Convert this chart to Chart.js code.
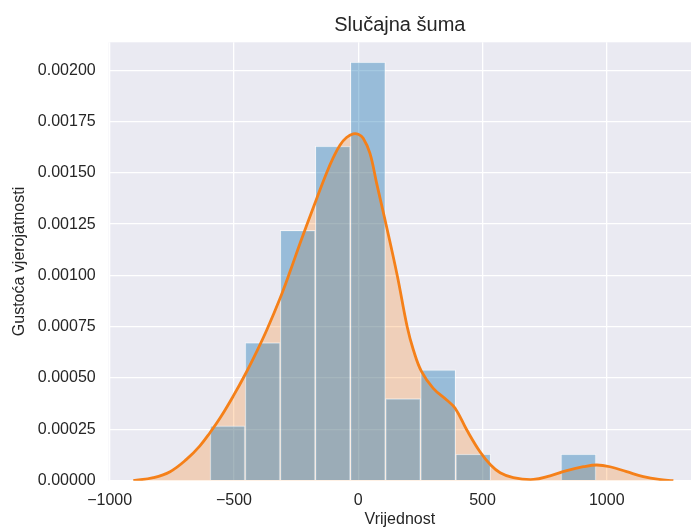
<!DOCTYPE html>
<html>
<head>
<meta charset="utf-8">
<title>Slučajna šuma</title>
<script src="https://cdn.jsdelivr.net/npm/chart.js@4.4.1/dist/chart.umd.min.js"></script>
<style>
    html, body { margin: 0; padding: 0; background: #ffffff; }
    #wrap { width: 691px; height: 532px; position: relative; }
</style>
</head>
<body>
<div id="wrap"><canvas id="chart"></canvas></div>
<script>
// histogram bins (centres) and densities
const binCenters = [-525.8, -384.6, -243.4, -102.2, 39.0, 180.2, 321.4, 462.6, 603.8, 745.0, 886.2];
const binDensity = [0.000267, 0.000673, 0.00122, 0.00163, 0.00204, 0.000400, 0.000540, 0.000130, 0, 0, 0.000130];

// KDE curve
const kdeX = [-905, -824, -757, -690, -637, -596, -556, -503, -456, -409, -368, -314, -274, -234, -181, -127, -100, -73, -47, -20, 0,
    20, 47, 74, 108, 157, 197, 222, 255, 302, 356, 390, 437, 490, 533, 571, 624, 705, 772, 839, 906, 960, 1013, 1080, 1147, 1210, 1268];
const kdeY = [0, 0.000015, 0.000044, 0.000105, 0.000170, 0.000235, 0.000305, 0.000412, 0.000515, 0.000628, 0.000734, 0.000890, 0.001020, 0.001157, 0.001330, 0.001500, 0.001575, 0.001636, 0.001672, 0.001690, 0.001688,
    0.001669, 0.001596, 0.001450, 0.001270, 0.001000, 0.000750, 0.000637, 0.000531, 0.000450, 0.000393, 0.000353, 0.000247, 0.000141, 0.0000765, 0.000039, 0.000015, 0.000006, 0.000024, 0.000049, 0.000068, 0.0000765, 0.000068, 0.000044, 0.000020, 0.000006, 0];

const xTicks = [-1000, -500, 0, 500, 1000];
const yTicks = [0, 0.00025, 0.0005, 0.00075, 0.001, 0.00125, 0.0015, 0.00175, 0.002];

const textColor = '#262626';
Chart.defaults.font.family = "'Liberation Sans', Arial, sans-serif";
Chart.defaults.color = textColor;

// seaborn style grey plot area
const plotBackground = {
    id: 'plotBackground',
    beforeDraw(chart) {
        const { ctx, chartArea: a } = chart;
        ctx.save();
        ctx.fillStyle = '#eaeaf2';
        ctx.fillRect(a.left, a.top, a.right - a.left, a.bottom - a.top);
        ctx.restore();
    }
};

const ctx = document.getElementById('chart').getContext('2d');
new Chart(ctx, {
    type: 'bar',
    data: {
        datasets: [
            {
                type: 'line',
                data: kdeX.map((x, i) => ({ x: x, y: kdeY[i] })),
                borderColor: 'rgb(245,128,25)',
                borderWidth: 2.8,
                backgroundColor: 'rgba(255,127,14,0.25)',
                fill: 'origin',
                pointRadius: 0,
                tension: 0.4,
                order: 0
            },
            {
                type: 'bar',
                data: binCenters.map((x, i) => ({ x: x, y: binDensity[i] })),
                backgroundColor: 'rgba(31,119,180,0.4)',
                borderColor: 'rgba(255,255,255,0.55)',
                borderWidth: 1,
                barPercentage: 1,
                categoryPercentage: 1,
                order: 1
            }
        ]
    },
    options: {
        responsive: true,
        maintainAspectRatio: false,
        animation: false,
        layout: { padding: 0 },
        plugins: {
            legend: { display: false },
            tooltip: { enabled: false },
            filler: { drawTime: 'beforeDatasetsDraw' },
            title: {
                display: true,
                fullSize: false,
                text: 'Slučajna šuma',
                color: textColor,
                font: { size: 20, weight: 'normal' },
                padding: { top: 13.5, bottom: 4.8 }
            }
        },
        scales: {
            x: {
                type: 'linear',
                min: -1004,
                max: 1339,
                offset: false,
                grid: { color: '#ffffff', lineWidth: 1.3, drawTicks: false, offset: false },
                border: { display: false },
                afterBuildTicks: s => { s.ticks = xTicks.map(v => ({ value: v })); },
                afterFit: s => { s.height = 51.3; },
                ticks: {
                    padding: 10,
                    font: { size: 16 },
                    color: textColor,
                    maxRotation: 0,
                    callback: v => (v < 0 ? '\u2212' + Math.abs(v) : String(v))
                },
                title: {
                    display: true,
                    text: 'Vrijednost',
                    color: textColor,
                    font: { size: 16 },
                    padding: { top: 0, bottom: 3 }
                }
            },
            y: {
                type: 'linear',
                min: 0,
                max: 0.002136,
                grid: { color: '#ffffff', lineWidth: 1.3, drawTicks: false },
                border: { display: false },
                afterBuildTicks: s => { s.ticks = yTicks.map(v => ({ value: v })); },
                afterFit: s => { s.width = 108.7; },
                ticks: {
                    padding: 13,
                    font: { size: 16 },
                    color: textColor,
                    callback: v => v.toFixed(5)
                },
                title: {
                    display: true,
                    text: 'Gustoća vjerojatnosti',
                    color: textColor,
                    font: { size: 16 },
                    padding: { top: 10, bottom: 0 }
                }
            }
        }
    },
    plugins: [plotBackground]
});
</script>
</body>
</html>
